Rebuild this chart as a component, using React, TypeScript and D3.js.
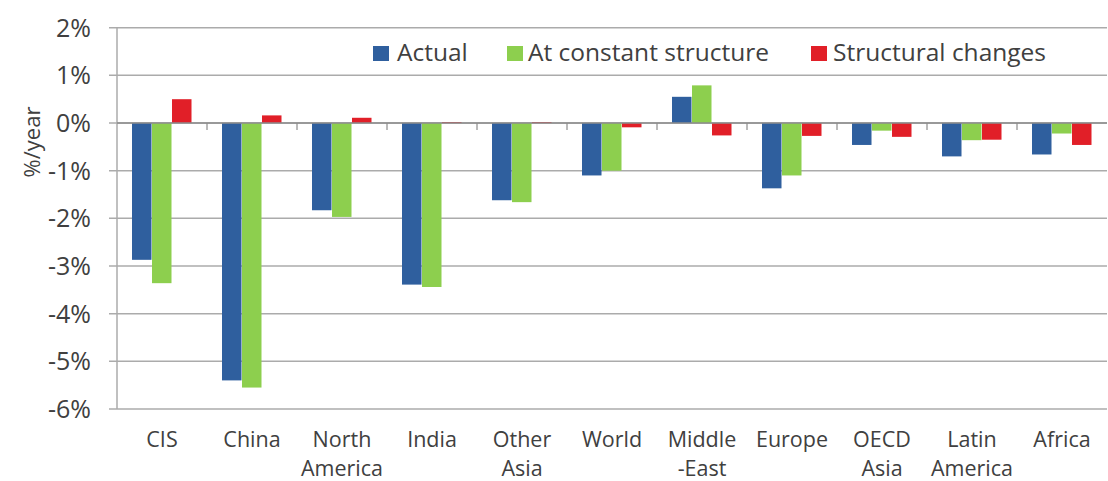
import * as d3 from 'd3';

const categories = ["CIS", "China", "North\nAmerica", "India", "Other\nAsia", "World", "Middle\n-East", "Europe", "OECD\nAsia", "Latin\nAmerica", "Africa"];
const actual = [-2.87, -5.4, -1.83, -3.39, -1.62, -1.1, 0.55, -1.37, -0.46, -0.7, -0.66];
const constantStructure = [-3.36, -5.55, -1.97, -3.44, -1.66, -1.0, 0.79, -1.1, -0.16, -0.36, -0.22];
const structuralChanges = [0.5, 0.16, 0.11, 0.02, 0.02, -0.09, -0.26, -0.27, -0.29, -0.35, -0.46];
const yTicks = [2, 1, 0, -1, -2, -3, -4, -5, -6];

const seriesNames = ["Actual", "At constant structure", "Structural changes"];
const colors = ["#2F5F9E", "#8DCF4E", "#E11F28"];

const W = 1108;
const H = 481;
const left = 117;
const right = 1107;
const top = 27.7;
const bottom = 409;
const font = "'Open Sans', sans-serif";

export default function App() {
  const series = [actual, constantStructure, structuralChanges];
  const x = d3.scaleBand<string>().domain(categories).range([left, right]).paddingInner(0).paddingOuter(0);
  const y = d3.scaleLinear().domain([-6, 2]).range([bottom, top]);
  const groupW = x.bandwidth() * (60 / 90);
  const inner = d3.scaleBand<number>().domain([0, 1, 2]).range([0, groupW]).padding(0);
  const offset = (x.bandwidth() - groupW) / 2;

  return (
    <svg width={W} height={H} style={{ position: "absolute", left: 0, top: 0, background: "#fff" }}>
      {/* gridlines */}
      {yTicks.map(t => (
        <line key={t} x1={left - 8} x2={right} y1={y(t)} y2={y(t)} stroke="#ABABAB" strokeWidth={1.5} />
      ))}
      {/* y axis */}
      <line x1={left} x2={left} y1={top} y2={bottom} stroke="#ABABAB" strokeWidth={1.5} />
      {/* tick labels */}
      {yTicks.map(t => (
        <text key={t} x={91} y={y(t)} dy="0.36em" textAnchor="end" fontFamily={font} fontSize={25} fill="#404040">
          {`${t}%`}
        </text>
      ))}
      <text transform={`translate(40,${142}) rotate(-90)`} textAnchor="middle" fontFamily={font} fontSize={22} fill="#404040">
        %/year
      </text>
      {/* bars */}
      {series.map((vals, si) => (
        <g key={si} fill={colors[si]}>
          {vals.map((v, i) => (
            <rect key={i}
              x={(x(categories[i]) ?? 0) + offset + (inner(si) ?? 0)}
              width={inner.bandwidth() - 0.5}
              y={y(Math.max(0, v))}
              height={Math.abs(y(v) - y(0))} />
          ))}
        </g>
      ))}
      {/* zero axis with ticks */}
      <line x1={left} x2={right} y1={y(0)} y2={y(0)} stroke="#8C8C8C" strokeWidth={1.5} />
      {categories.map((c, i) => i > 0 ? (
        <line key={c} x1={x(c)} x2={x(c)} y1={y(0)} y2={y(0) + 7} stroke="#8C8C8C" strokeWidth={1.2} />
      ) : null)}
      {/* category labels */}
      {categories.map(c => (
        <text key={c} textAnchor="middle" fontFamily={font} fontSize={21.5} fill="#404040">
          {c.split("\n").map((ln, k) => (
            <tspan key={k} x={(x(c) ?? 0) + x.bandwidth() / 2} y={447 + k * 29}>{ln}</tspan>
          ))}
        </text>
      ))}
      {/* legend */}
      {seriesNames.map((n, i) => {
        const lx = [373, 507, 811][i];
        const tx = [397, 528, 833][i];
        return (
          <g key={n}>
            <rect x={lx} y={46} width={16} height={15} fill={colors[i]} />
            <text x={tx} y={61} fontFamily={font} fontSize={24.5} fill="#404040">{n}</text>
          </g>
        );
      })}
    </svg>
  );
}
